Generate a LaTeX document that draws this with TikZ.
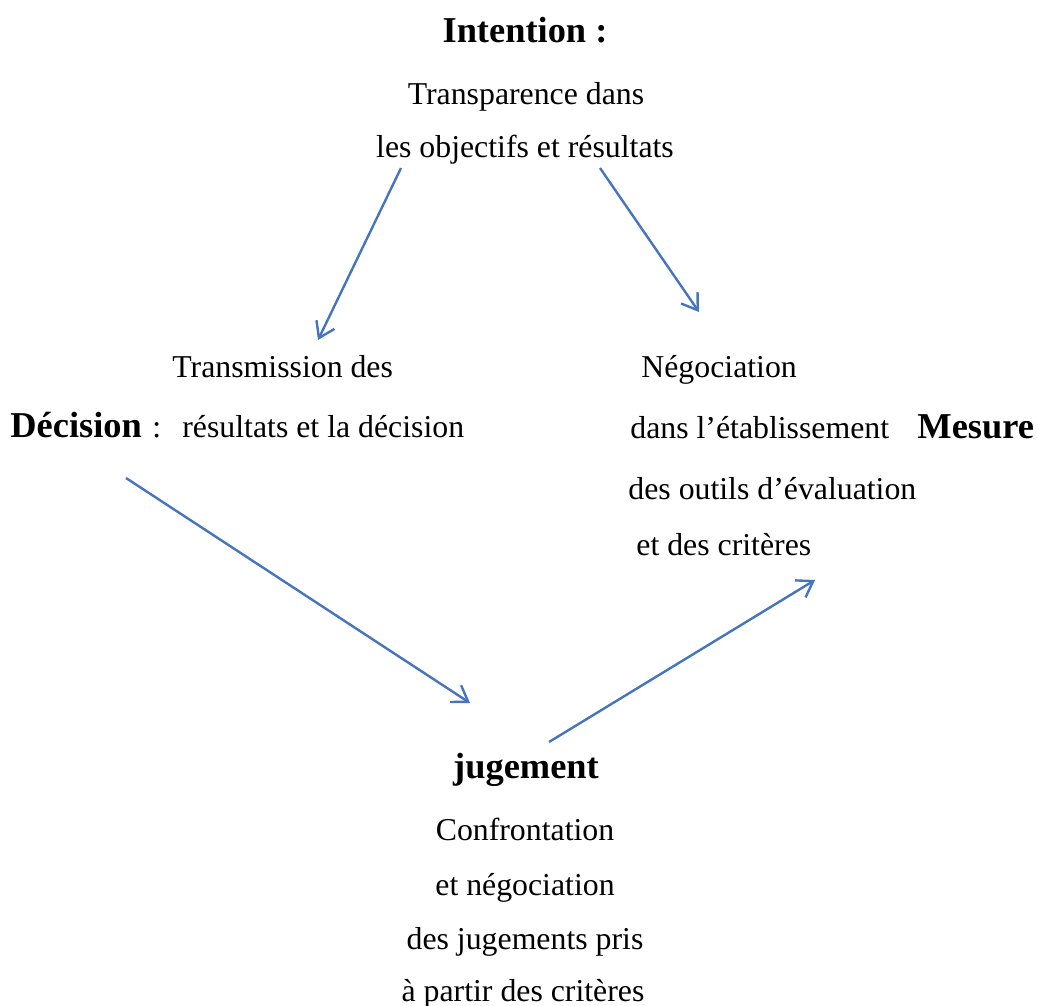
\documentclass[tikz,border=0pt]{standalone}
\usepackage{fontspec}
\setmainfont{Liberation Serif}
\usetikzlibrary{arrows.meta}
\definecolor{bleu}{RGB}{70,116,190}
\tikzset{
  texte/.style={anchor=base, inner sep=0pt, font=\fontsize{15.9}{19}\selectfont},
  titre/.style={anchor=base, inner sep=0pt, font=\fontsize{18.2}{22}\selectfont\bfseries},
  fleche/.style={draw=bleu, line width=1.2pt, -{Straight Barb[length=7.5pt,width=10pt]}}
}
\begin{document}
\begin{tikzpicture}[x=0.5pt, y=-0.5pt]
      \useasboundingbox (0,0) rectangle (1037,1005);
      \node[titre] (intention) at (525,43) {Intention :};
      \node[texte] (transp) at (526,105) {Transparence dans};
      \node[texte] (objectifs) at (525,158) {les objectifs et résultats};
      \node[texte, anchor=base west] (transm) at (172,377) {Transmission des};
      \node[titre, anchor=base west] (decision) at (10,437) {Décision};
      \node[texte, anchor=base west] (deuxpts) at (152,437) {:};
      \node[texte, anchor=base west] (resultats) at (182,437) {résultats et la décision};
      \node[texte, anchor=base west] (nego) at (641,377) {Négociation};
      \node[texte, anchor=base west] (etab) at (630,438) {dans l’établissement};
      \node[titre, anchor=base west] (mesure) at (917,438) {Mesure};
      \node[texte, anchor=base west] (outils) at (628,499) {des outils d’évaluation};
      \node[texte, anchor=base west] (criteres) at (636,555) {et des critères};
      \node[titre] (jugement) at (526,778) {jugement};
      \node[texte] (confront) at (525,840) {Confrontation};
      \node[texte] (etnego) at (525,895) {et négociation};
      \node[texte] (jugpris) at (525,949) {des jugements pris};
      \node[texte] (partir) at (523,1001) {à partir des critères};
      \coordinate (i1) at (401,168);
      \coordinate (i2) at (600,168);
      \coordinate (t1) at (318,340);
      \coordinate (n1) at (699,312);
      \coordinate (d1) at (126,478);
      \coordinate (j1) at (470,703);
      \coordinate (j2) at (549,742);
      \coordinate (m1) at (815,580);
      \draw[fleche] (i1) to (t1);
      \draw[fleche] (i2) to (n1);
      \draw[fleche] (d1) to (j1);
      \draw[fleche] (j2) to (m1);
    \end{tikzpicture}
\end{document}
